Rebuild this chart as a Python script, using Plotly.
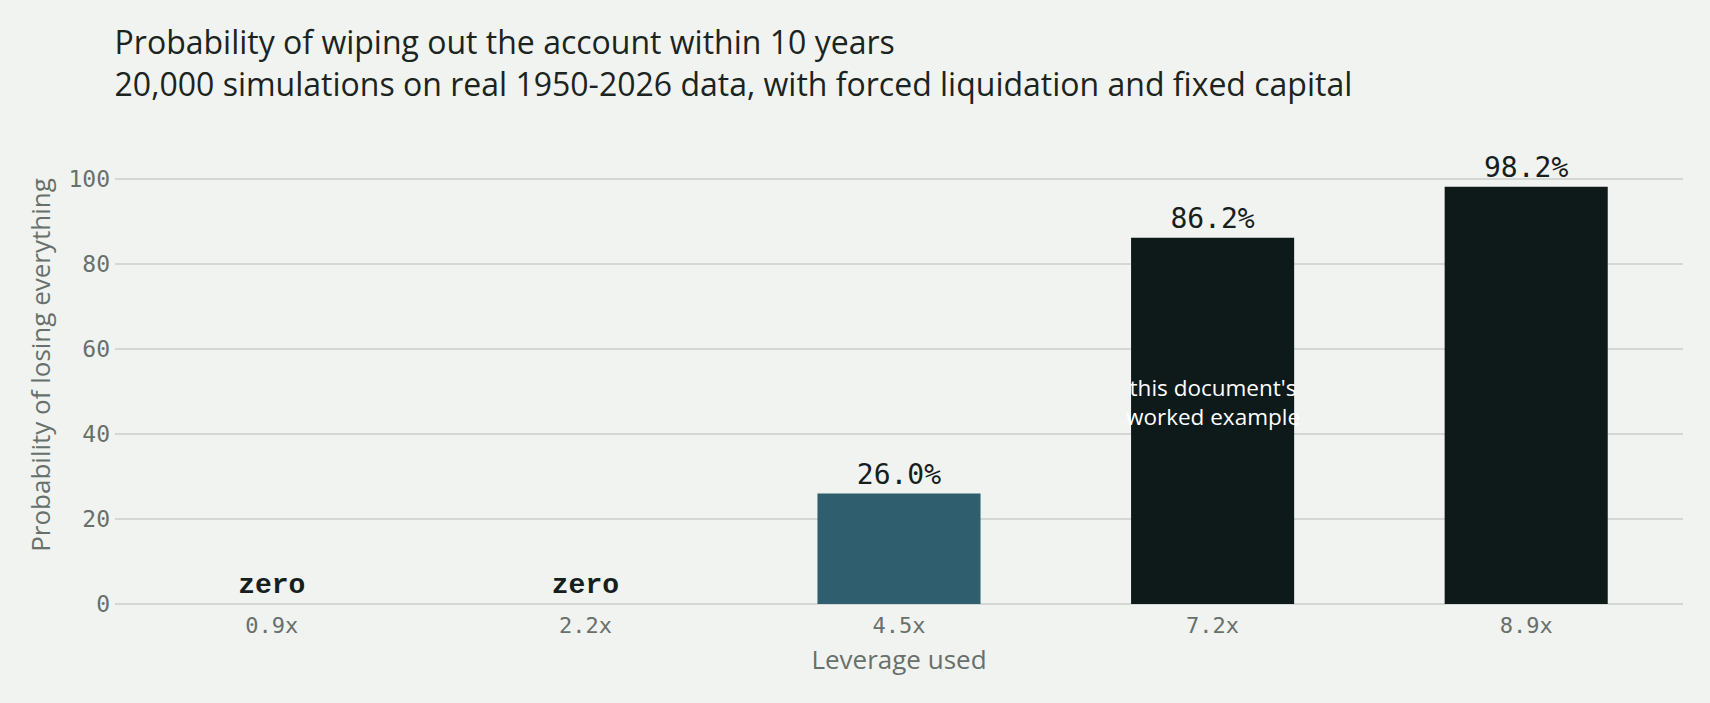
import plotly.graph_objects as go

leverage = ["0.9x", "2.2x", "4.5x", "7.2x", "8.9x"]
ruin_pct = [0.0, 0.0, 26.0, 86.2, 98.2]
bar_labels = ["zero", "zero", "26.0%", "86.2%", "98.2%"]
bar_colors = ["#2f5f6e", "#2f5f6e", "#2f5f6e", "#0e1a1a", "#0e1a1a"]

mono = "DejaVu Sans Mono, Liberation Mono, monospace"
sans = "Open Sans, Lato, Noto Sans, sans-serif"
# the "zero" labels come out heavier, courier-like
label_fonts = ["Liberation Mono", "Liberation Mono", mono, mono, mono]
label_weights = [700, 700, 400, 400, 400]

fig = go.Figure()
fig.add_trace(go.Bar(x = leverage, y = ruin_pct, text = bar_labels,
                     textposition = "outside", cliponaxis = False,
                     textfont = dict(family = label_fonts, weight = label_weights,
                                     size = 28, color = "#15201d"),
                     marker = dict(color = bar_colors, line = dict(width = 0)),
                     hoverinfo = "skip", showlegend = False))

fig.add_annotation(x = "7.2x", y = 47.5, text = "this document's<br>worked example",
                   showarrow = False, font = dict(family = sans, size = 22.5, color = "#ffffff"))

fig.update_layout(
    width = 1710, height = 703,
    paper_bgcolor = "#f1f3f0", plot_bgcolor = "#f1f3f0",
    margin = dict(l = 115, r = 27, t = 126, b = 99),
    bargap = 0.48,
    font = dict(family = sans, color = "#1b2420"),
    title = dict(text = "Probability of wiping out the account within 10 years<br>"
                        "20,000 simulations on real 1950-2026 data, with forced liquidation and fixed capital",
                 x = 0.067, xanchor = "left", y = 0.923, yanchor = "top",
                 font = dict(family = sans, size = 32, color = "#1b2420")),
    xaxis = dict(title = dict(text = "Leverage used", standoff = 13,
                              font = dict(family = sans, size = 26, color = "#68706b")),
                 tickfont = dict(family = mono, size = 22, color = "#68706b"),
                 ticklabelstandoff = 6,
                 showgrid = False, zeroline = False, showline = False, ticks = ""),
    yaxis = dict(title = dict(text = "Probability of losing everything", standoff = 10,
                              font = dict(family = sans, size = 26, color = "#68706b")),
                 automargin = True,
                 tickfont = dict(family = mono, size = 23, color = "#68706b"),
                 ticklabelstandoff = 4,
                 range = [0, 112.5], tickvals = [0, 20, 40, 60, 80, 100],
                 gridcolor = "#d3d8d4", gridwidth = 1.5,
                 zeroline = True, zerolinecolor = "#d3d8d4", zerolinewidth = 1.5,
                 layer = "above traces", ticks = ""),
)

fig.write_html("out.html", config = {"displayModeBar": False},
               post_script = "document.body.style.margin = '0';")
